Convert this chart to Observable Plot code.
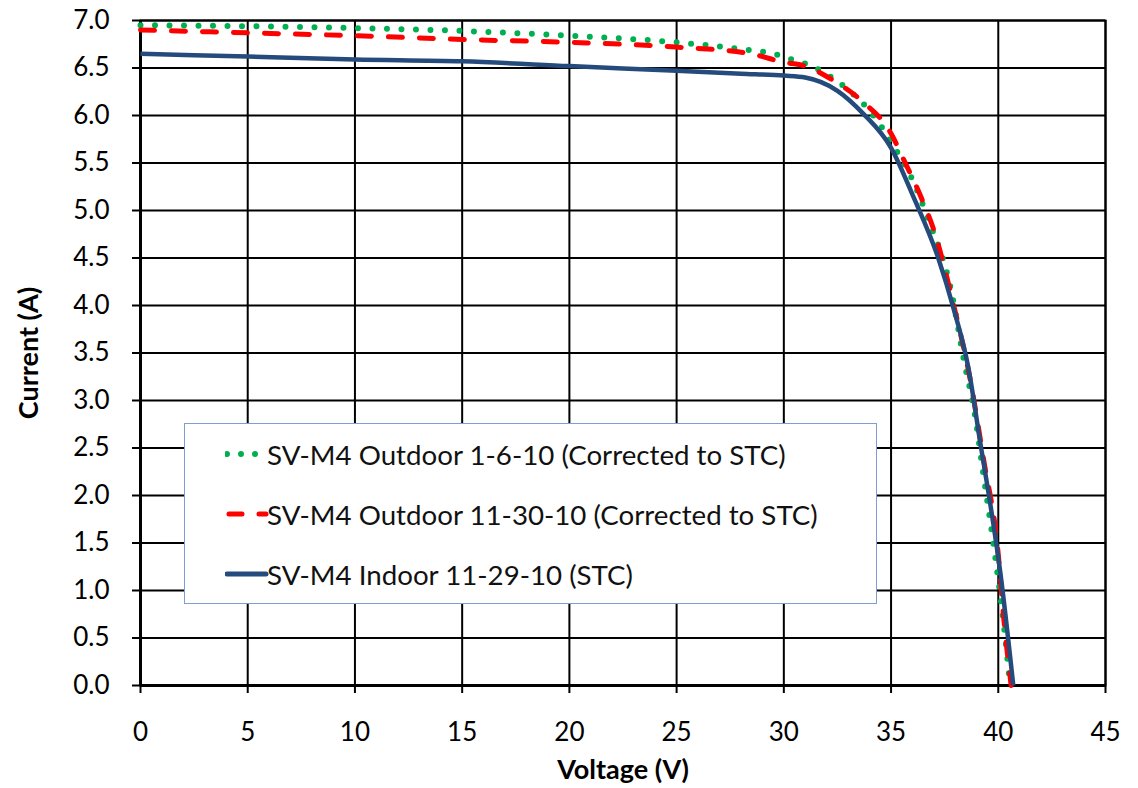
<!DOCTYPE html>
<html>
<head>
<meta charset="utf-8">
<script src="https://cdn.jsdelivr.net/npm/d3@7"></script>
<script src="https://cdn.jsdelivr.net/npm/@observablehq/plot@0.6"></script>
<style>
  html, body { margin: 0; padding: 0; background: #fff; }
  #wrap { position: relative; width: 1138px; height: 788px; }
  svg [aria-label="y-axis label"], svg [aria-label="x-axis label"] { font-weight: bold; font-size: 27px; }
  svg [aria-label="y-axis tick label"], svg [aria-label="x-axis tick label"] { font-size: 26px; }
  #legend {
    position: absolute; left: 184px; top: 423px; width: 691px; height: 179px;
    background: #fff; border: 1.5px solid #7f9fd0; font-family: Lato, sans-serif;
    font-size: 27.7px; color: #111;
  }
  .row { position: absolute; left: 40px; height: 30px; display: flex; align-items: center; }
  .row svg { width: 44px; height: 30px; flex: none; }
  .row span { margin-left: -2px; }
</style>
</head>
<body>
<div id="wrap"></div>
<script>
// Series: SV-M4 Outdoor 1-6-10 (Corrected to STC)
const outdoor1V = [0, 5, 10, 15, 20, 25, 28, 29.5, 30.5, 31.2, 31.8, 33, 34, 35.2, 35.9, 36.7, 37.8, 38.4, 38.9, 39.3, 39.8, 40.25, 40.55];
const outdoor1I = [6.95, 6.94, 6.92, 6.89, 6.84, 6.77, 6.70, 6.65, 6.58, 6.53, 6.46, 6.27, 6.05, 5.65, 5.37, 4.93, 4.16, 3.42, 2.86, 2.23, 1.45, 0.65, 0];
// Series: SV-M4 Outdoor 11-30-10 (Corrected to STC)
const outdoor2V = [0, 5, 10, 15, 20, 25, 28.45, 30, 31, 32.3, 33.6, 35, 35.6, 36.4, 37, 37.9, 38.7, 39.3, 40.0, 40.25, 40.6];
const outdoor2I = [6.90, 6.87, 6.84, 6.80, 6.77, 6.72, 6.65, 6.56, 6.52, 6.37, 6.16, 5.81, 5.53, 5.14, 4.79, 4.02, 3.21, 2.40, 1.38, 0.72, 0];
// Series: SV-M4 Indoor 11-29-10 (STC)
const indoorV = [0, 5, 10, 15, 20, 25, 28, 30, 31, 32.5, 33.7, 35.0, 36.05, 37.2, 37.9, 38.6, 39.2, 39.6, 40.1, 40.7];
const indoorI = [6.65, 6.62, 6.59, 6.57, 6.52, 6.47, 6.44, 6.42, 6.40, 6.26, 6.02, 5.66, 5.14, 4.5, 3.98, 3.35, 2.5, 1.95, 1.18, 0];

const seriesNames = [
  "SV-M4 Outdoor 1-6-10 (Corrected to STC)",
  "SV-M4 Outdoor 11-30-10 (Corrected to STC)",
  "SV-M4 Indoor 11-29-10 (STC)"
];
const xTicks = [0, 5, 10, 15, 20, 25, 30, 35, 40, 45];
const yTicks = [0, 0.5, 1, 1.5, 2, 2.5, 3, 3.5, 4, 4.5, 5, 5.5, 6, 6.5, 7];

const toRows = (V, I) => V.map((v, i) => ({v, i: I[i]}));
const s1 = toRows(outdoor1V, outdoor1I);
const s2 = toRows(outdoor2V, outdoor2I);
const s3 = toRows(indoorV, indoorI);

const chart = Plot.plot({
  width: 1138,
  height: 788,
  marginLeft: 140,
  marginRight: 33,
  marginTop: 20,
  marginBottom: 103,
  style: {fontFamily: "Lato, sans-serif", fontSize: "26px", color: "#000", background: "#fff"},
  x: {domain: [0, 45]},
  y: {domain: [0, 7]},
  marks: [
    Plot.gridX(xTicks, {stroke: "#000", strokeOpacity: 1, strokeWidth: 2}),
    Plot.gridY(yTicks, {stroke: "#000", strokeOpacity: 1, strokeWidth: 2}),
    Plot.frame({stroke: "#000", strokeWidth: 2}),
    Plot.ruleY([0], {stroke: "#000", strokeWidth: 3}),
    Plot.ruleX([0], {stroke: "#000", strokeWidth: 3}),
    Plot.axisY({ticks: yTicks, tickFormat: d3.format(".1f"), tickSize: 8, tickPadding: 23, strokeWidth: 2,
      label: "Current (A)", labelAnchor: "center", labelArrow: "none", labelOffset: 122, fontSize: 26}),
    Plot.axisX({ticks: xTicks, tickFormat: d => String(d), tickSize: 8, tickPadding: 29, strokeWidth: 2,
      label: "Voltage (V)", labelAnchor: "center", labelArrow: "none", labelOffset: 93, fontSize: 26}),
    Plot.line(s1, {x: "v", y: "i", curve: "monotone-x", stroke: "#00b050", strokeWidth: 6,
      strokeDasharray: "0 14.5", strokeLinecap: "round"}),
    Plot.line(s2, {x: "v", y: "i", curve: "monotone-x", stroke: "#ff0000", strokeWidth: 5,
      strokeDasharray: "14 17", strokeLinecap: "round"}),
    Plot.line(s3, {x: "v", y: "i", curve: "monotone-x", stroke: "#254b7d", strokeWidth: 4.5,
      strokeLinecap: "butt"})
  ]
});

const wrap = document.getElementById("wrap");
wrap.appendChild(chart);

// Legend (inside plot area)
const legend = document.createElement("div");
legend.id = "legend";
const swatches = [
  `<svg viewBox="0 0 44 30"><line x1="2" x2="40" y1="15" y2="15" stroke="#00b050" stroke-width="6" stroke-linecap="round" stroke-dasharray="0 14"/></svg>`,
  `<svg viewBox="0 0 44 30"><line x1="4" x2="41" y1="15" y2="15" stroke="#ff0000" stroke-width="5" stroke-linecap="round" stroke-dasharray="13 17"/></svg>`,
  `<svg viewBox="0 0 44 30"><line x1="2" x2="41" y1="15" y2="15" stroke="#254b7d" stroke-width="5" stroke-linecap="round"/></svg>`
];
const tops = [15, 75, 135];
seriesNames.forEach((name, k) => {
  const row = document.createElement("div");
  row.className = "row";
  row.style.top = tops[k] + "px";
  row.innerHTML = swatches[k] + `<span>${name}</span>`;
  legend.appendChild(row);
});
wrap.appendChild(legend);
</script>
</body>
</html>
